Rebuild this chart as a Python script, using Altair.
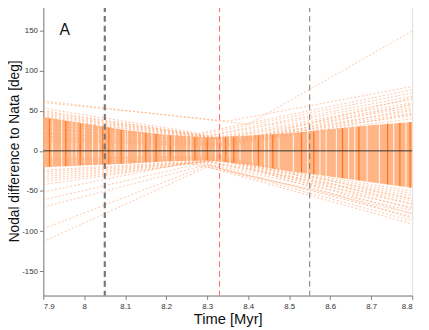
import altair as alt
import pandas as pd

# ---- data ----
# dense band envelope
env_t = [7.9, 8.0, 8.1, 8.2, 8.3, 8.4, 8.5, 8.6, 8.7, 8.8]
env_hi = [42, 34, 26, 20, 17, 19, 22, 27, 32, 36]
env_lo = [-20, -18, -16, -13, -12, -17, -25, -32, -39, -46]

# darker orange vertical stripes (time, low, high)
stripe_t = [7.915, 7.955, 7.99, 8.045, 8.06, 8.09, 8.15, 8.175, 8.21, 8.27, 8.3,
            8.345, 8.365, 8.425, 8.46, 8.53, 8.56, 8.63, 8.67, 8.74, 8.77, 8.795]
stripe_lo = [-20, -19, -18, -17, -17, -16, -14, -14, -13, -12, -12,
             -14, -15, -19, -22, -27, -29, -34, -37, -42, -44, -46]
stripe_hi = [40, 37, 34, 30, 29, 26, 22, 21, 19, 17, 16,
             17, 17, 19, 20, 23, 24, 28, 30, 34, 35, 36]

# white gaps inside the band
gap_t = [7.922, 7.945, 7.97, 7.98, 8.0, 8.02, 8.035, 8.075, 8.1, 8.105, 8.13, 8.14, 8.165, 8.19, 8.2,
         8.22, 8.25, 8.26, 8.285, 8.32, 8.335, 8.355, 8.38, 8.41, 8.44, 8.45, 8.475, 8.51, 8.545,
         8.575, 8.59, 8.615, 8.645, 8.66, 8.69, 8.72, 8.755, 8.785]
gap_lo = [-40, -40, -40, -40, -38, -38, -38, -36, -34, -34, -32, -32, -30, -28, -28,
          -26, -25, -25, -24, -26, -28, -30, -33, -36, -40, -42, -44, -48, -52,
          -56, -58, -60, -62, -64, -68, -70, -74, -78]
gap_hi = [50, 50, 48, 48, 46, 45, 45, 42, 40, 40, 38, 38, 36, 34, 34,
          32, 30, 30, 30, 32, 34, 35, 37, 40, 42, 44, 46, 50, 54,
          58, 60, 62, 64, 66, 70, 72, 76, 80]

# individual lines: value at 7.9, turning time, value at turn, value at 8.8
line_start = [62, 60, 53, 50, 48, 46, 44, 42, 40, 38, 35, 32, 28, 22, 18, 15, 12,
              -113, -97, -70, -61, -51, -42, -38, -35, -32, -29, -26, -24, -20, -18, -15, -12, -10]
line_turn_t = [8.40, 8.35, 8.28, 8.28, 8.30, 8.30, 8.32, 8.33, 8.33, 8.35, 8.35, 8.35, 8.35, 8.35, 8.35, 8.35, 8.35,
               8.30, 8.30, 8.30, 8.28, 8.25, 8.28, 8.30, 8.30, 8.30, 8.32, 8.33, 8.33, 8.33, 8.33, 8.33, 8.33, 8.33]
line_turn_v = [33, 37, 22, 20, 19, 18, 17, 16, 15, 14, 13, 12, 10, 9, 8, 7, 6,
               -20, -18, -17, -16, -15, -14, -14, -13, -13, -12, -12, -11, -10, -9, -8, -7, -6]
line_end = [149, 80, 76, 72, 68, 64, 60, 57, 54, 50, 47, 44, 40, 66, 58, 52, 46,
            -91, -87, -82, -78, -74, -70, -66, -62, -59, -56, -53, -50, -84, -78, -72, -66, -60]

dashed_dark = [8.05]
dashed_red = [8.33]
dashed_gray = [8.55]

x_ticks = [7.9, 8, 8.1, 8.2, 8.3, 8.4, 8.5, 8.6, 8.7, 8.8]
y_ticks = [-150, -100, -50, 0, 50, 100, 150]
panel_label = "A"

# ---- tables ----
env_df = pd.DataFrame({"t": env_t, "lo": env_lo, "hi": env_hi})
stripe_df = pd.DataFrame({"t": stripe_t, "lo": stripe_lo, "hi": stripe_hi})
gap_df = pd.DataFrame({"t": gap_t, "lo": gap_lo, "hi": gap_hi})
rows = []
for i, (s, tt, tv, e) in enumerate(zip(line_start, line_turn_t, line_turn_v, line_end)):
    rows += [{"id": i, "t": 7.9, "v": s}, {"id": i, "t": tt, "v": tv}, {"id": i, "t": 8.8, "v": e}]
lines_df = pd.DataFrame(rows)

xs = alt.Scale(domain=[7.9, 8.8], nice=False, zero=False)
ys = alt.Scale(domain=[-180, 180], nice=False, zero=False)
font = "Liberation Sans"
xaxis = alt.Axis(values=x_ticks, labelExpr="'' + datum.value", title="Time [Myr]", grid=False,
                 domainColor="#808080", tickColor="#808080", tickSize=4, labelPadding=3,
                 labelFontSize=8, labelFont=font, labelColor="#333333",
                 titleFontSize=15, titleFont=font, titleFontWeight="normal", titleColor="#111111", titlePadding=1)
yaxis = alt.Axis(values=y_ticks, labelExpr="'' + datum.value", title="Nodal difference to Nata [deg]", grid=False,
                 domainColor="#808080", tickColor="#808080", tickSize=4, labelPadding=2,
                 labelFontSize=8, labelFont=font, labelColor="#333333",
                 titleFontSize=14, titleFont=font, titleFontWeight="normal", titleColor="#111111", titlePadding=0)

def X(f):
    return alt.X(f, type="quantitative", scale=xs, axis=xaxis)

def Y(f):
    return alt.Y(f, type="quantitative", scale=ys, axis=yaxis)

band = alt.Chart(env_df).mark_area(color="#FFB585", opacity=1).encode(x=X("t"), y=Y("lo"), y2="hi")
gaps = alt.Chart(gap_df).mark_rule(color="white", strokeWidth=1, opacity=0.9).encode(x=X("t"), y=Y("lo"), y2="hi")
stripes = alt.Chart(stripe_df).mark_rule(color="#FF6A10", strokeWidth=1.2, opacity=0.9).encode(x=X("t"), y=Y("lo"), y2="hi")
lines = alt.Chart(lines_df).mark_line(color="#FFA068", strokeWidth=1, strokeDash=[2, 2], opacity=0.6).encode(
    x=X("t"), y=Y("v"), detail="id:N")
zero = alt.Chart(pd.DataFrame({"v": [0]})).mark_rule(color="#333333", strokeWidth=1).encode(y=Y("v"))
vd = alt.Chart(pd.DataFrame({"t": dashed_dark})).mark_rule(color="#777777", strokeWidth=2.2, strokeDash=[6, 4]).encode(x=X("t"))
vr = alt.Chart(pd.DataFrame({"t": dashed_red})).mark_rule(color="#FF6666", strokeWidth=1, strokeDash=[6, 4]).encode(x=X("t"))
vg = alt.Chart(pd.DataFrame({"t": dashed_gray})).mark_rule(color="#777777", strokeWidth=1, strokeDash=[6, 4]).encode(x=X("t"))
label = alt.Chart(pd.DataFrame({"t": [7.952], "v": [150], "s": [panel_label]})).mark_text(
    fontSize=16, font=font, color="#111111").encode(x=X("t"), y=Y("v"), text="s:N")

chart = alt.layer(band, gaps, stripes, lines, zero, vd, vr, vg, label).properties(
    width=376, height=295,
    autosize=alt.AutoSizeParams(type="none"),
    padding={"left": 36, "top": -5, "right": 9, "bottom": 32},
).configure_view(stroke=None).configure(background="white")

chart.save("out.html", embed_options={"renderer": "svg", "actions": False})
